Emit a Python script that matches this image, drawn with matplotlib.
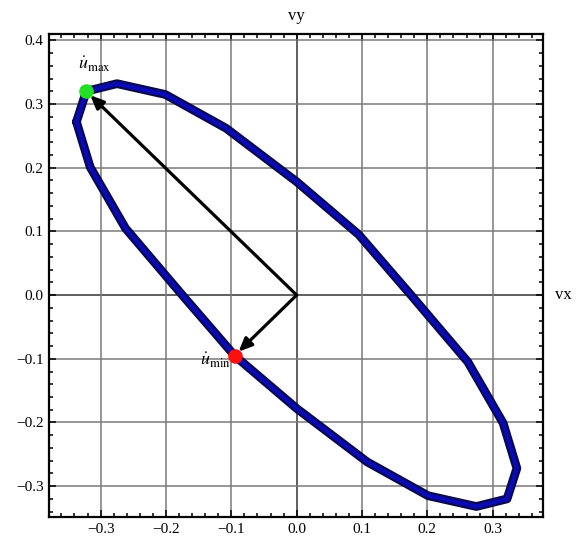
import matplotlib
matplotlib.use("Agg")
import matplotlib.pyplot as plt
from matplotlib.ticker import MultipleLocator, FuncFormatter

plt.rcParams['font.family'] = ['Liberation Serif', 'DejaVu Serif']
plt.rcParams['mathtext.fontset'] = 'stix'

# Velocity-ellipse outline (vx, vy), closed polygon
ellipse_vx = [-0.337, -0.322, -0.275, -0.201, -0.108, 0.000, 0.095, 0.175,
              0.262, 0.316, 0.337, 0.322, 0.275, 0.201, 0.108, 0.000,
              -0.095, -0.175, -0.262, -0.316, -0.337]
ellipse_vy = [0.272, 0.320, 0.332, 0.315, 0.262, 0.178, 0.095, 0.000,
              -0.105, -0.201, -0.272, -0.320, -0.332, -0.315, -0.262, -0.178,
              -0.095, 0.000, 0.105, 0.201, 0.272]

# Extreme velocity vectors
u_max = (-0.322, 0.320)
u_min = (-0.095, -0.095)

fig = plt.figure(figsize=(5.8, 5.37), dpi=100)
ax = fig.add_axes([0.0845, 0.0372, 0.8517, 0.8995])
ax.set_xlim(-0.379, 0.377)
ax.set_ylim(-0.3485, 0.41)

# grid and coordinate axes
ax.xaxis.set_major_locator(MultipleLocator(0.1))
ax.yaxis.set_major_locator(MultipleLocator(0.1))
ax.xaxis.set_minor_locator(MultipleLocator(0.02))
ax.yaxis.set_minor_locator(MultipleLocator(0.02))
ax.grid(True, which='major', color='#7a7a7a', linewidth=1.1, zorder=0)
ax.axhline(0, color='black', linewidth=1.3, zorder=1)
ax.axvline(0, color='black', linewidth=1.3, zorder=1)

fmt = FuncFormatter(lambda v, p: ('%.1f' % v).replace('-', '\u2212') if abs(v) > 1e-9 else '0.0')
ax.xaxis.set_major_formatter(fmt)
ax.yaxis.set_major_formatter(fmt)
ax.tick_params(which='both', direction='in', top=True, right=True,
               labeltop=False, labelright=False, labelsize=11, width=1.1)
ax.tick_params(which='major', length=5, pad=4)
ax.tick_params(which='minor', length=3)
for s in ax.spines.values():
    s.set_linewidth(1.6)

# ellipse outline: dark rim with blue core
ax.plot(ellipse_vx, ellipse_vy, color='#08084e', linewidth=6.3,
        solid_joinstyle='round', solid_capstyle='round', zorder=3)
ax.plot(ellipse_vx, ellipse_vy, color='#0a0ab4', linewidth=3.2,
        solid_joinstyle='round', solid_capstyle='round', zorder=3)

# vectors from the origin
for tip in (u_max, u_min):
    ax.annotate('', xy=tip, xytext=(0, 0),
                arrowprops=dict(arrowstyle='-|>,head_length=0.8,head_width=0.35',
                                color='black', lw=2.3, shrinkA=0, shrinkB=4),
                zorder=4)

ax.plot(*u_max, 'o', color='#22e022', markersize=10.5, markeredgewidth=0, zorder=5)
ax.plot(*u_min, 'o', color='#ff1010', markersize=10.5, markeredgewidth=0, zorder=5)

ax.text(-0.31, 0.363, r'$\dot{u}_{\mathrm{max}}$', fontsize=13,
        ha='center', va='center', zorder=6)
ax.text(-0.125, -0.102, r'$\dot{u}_{\mathrm{min}}$', fontsize=13,
        ha='center', va='center', zorder=6)

# axis names at the ends of the coordinate axes
ax.text(0.0, 1.02, 'vy', transform=ax.get_xaxis_transform(), fontsize=12,
        ha='center', va='bottom')
ax.text(1.025, 0.0, 'vx', transform=ax.get_yaxis_transform(), fontsize=12,
        ha='left', va='center')

fig.savefig('out.png', dpi=100)
